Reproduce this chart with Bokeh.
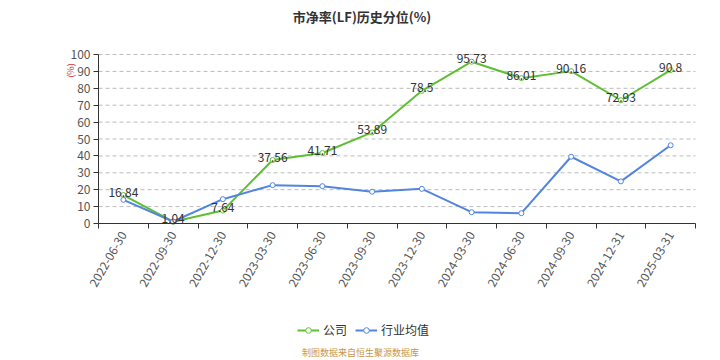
from math import pi
from bokeh.plotting import figure
from bokeh.models import (ColumnDataSource, FixedTicker, Range1d, Label, Legend, LegendItem,
                          LinearAxis, Grid)
from bokeh.embed import file_html
from bokeh.resources import INLINE

dates = ["2022-06-30", "2022-09-30", "2022-12-30", "2023-03-30", "2023-06-30", "2023-09-30",
         "2023-12-30", "2024-03-30", "2024-06-30", "2024-09-30", "2024-12-31", "2025-03-31"]
company = [16.84, 1.04, 7.64, 37.56, 41.71, 53.89, 78.5, 95.73, 86.01, 90.16, 72.93, 90.8]
industry = [14.0, 1.2, 14.4, 22.7, 22.1, 18.8, 20.5, 6.7, 6.1, 39.5, 24.9, 46.3]
y_ticks = [0, 10, 20, 30, 40, 50, 60, 70, 80, 90, 100]

title_text = "市净率(LF)历史分位(%)"
source_text = "制图数据来自恒生聚源数据库"
unit_text = "(%)"
series_names = ["公司", "行业均值"]

GREEN = "#5fbf32"
BLUE = "#5285e0"
FONT = "Noto Sans CJK SC"

n = len(dates)
xs = [i + 0.5 for i in range(n)]
src = ColumnDataSource(dict(x=xs, company=company, industry=industry,
                            clabel=[str(v) for v in company]))

# the frame covers the whole canvas; axes are drawn at fixed locations inside it
W, H = 720, 360
px_x = 49.75          # pixels per category
px_y = 1.69           # pixels per percent
left_px, zero_px = 98, 223
x_range = Range1d(-left_px / px_x, (W - left_px) / px_x)
y_range = Range1d(-(H - zero_px) / px_y, zero_px / px_y)

p = figure(width=W, height=H, output_backend="svg", toolbar_location=None,
           x_range=x_range, y_range=y_range, x_axis_location=None, y_axis_location=None,
           min_border=0)
p.title = None
p.outline_line_color = None
p.background_fill_color = "white"
p.border_fill_color = "white"
p.center = [r for r in p.center if not isinstance(r, Grid)]

# grid lines (dashed) between 10 and 100
grid_y = y_ticks[1:]
p.segment(x0=[0] * len(grid_y), x1=[n] * len(grid_y), y0=grid_y, y1=grid_y,
          line_color="#bbbbbb", line_dash="4 3", line_width=1)

# x axis
xaxis = LinearAxis(fixed_location=0, bounds=(0, n))
xaxis.ticker = FixedTicker(ticks=xs, minor_ticks=list(range(n + 1)))
xaxis.major_label_overrides = {x: d for x, d in zip(xs, dates)}
xaxis.major_label_orientation = pi / 3
xaxis.major_tick_out = 0
xaxis.major_tick_in = 0
xaxis.minor_tick_out = 5
xaxis.minor_tick_in = 0
xaxis.minor_tick_line_color = "#333333"
xaxis.axis_line_color = "#333333"
xaxis.major_label_text_font = FONT
xaxis.major_label_text_font_size = "12px"
xaxis.major_label_text_color = "#555555"
xaxis.major_label_standoff = 4
p.add_layout(xaxis, "below")

# y axis
yaxis = LinearAxis(fixed_location=0, bounds=(0, 100))
yaxis.ticker = FixedTicker(ticks=y_ticks)
yaxis.minor_tick_line_color = None
yaxis.major_tick_out = 5
yaxis.major_tick_in = 0
yaxis.axis_line_color = "#333333"
yaxis.major_tick_line_color = "#333333"
yaxis.major_label_text_font = FONT
yaxis.major_label_text_font_size = "12px"
yaxis.major_label_text_color = "#555555"
yaxis.major_label_standoff = 3
p.add_layout(yaxis, "left")

# series
cl = p.line("x", "company", source=src, line_color=GREEN, line_width=2)
cc = p.scatter("x", "company", source=src, size=5, fill_color="white", line_color=GREEN, line_width=1)
il = p.line("x", "industry", source=src, line_color=BLUE, line_width=2)
ic = p.scatter("x", "industry", source=src, size=5, fill_color="white", line_color=BLUE, line_width=1)

p.text("x", "company", text="clabel", source=src, text_align="center", text_baseline="middle",
       y_offset=-3, text_font_size="12px", text_color="#333333",
       text_font={"value": FONT})

# legend
legend = Legend(items=[LegendItem(label=series_names[0], renderers=[cl, cc]),
                       LegendItem(label=series_names[1], renderers=[il, ic])],
                orientation="horizontal", location=(297, 22),
                label_text_font=FONT, label_text_font_size="12px", label_text_color="#333333",
                glyph_width=22, glyph_height=14, spacing=8, label_standoff=4,
                background_fill_alpha=0, border_line_color=None, padding=0, margin=0)
p.add_layout(legend, "center")

# title, unit and source
p.add_layout(Label(x=(361.5 - left_px) / px_x, y=(zero_px - 16) / px_y, text=title_text,
                   text_align="center", text_baseline="middle", text_font=FONT,
                   text_font_size="13px", text_font_style="bold", text_color="#333333"))
p.add_layout(Label(x=(70 - left_px) / px_x, y=(zero_px - 70) / px_y, text=unit_text, angle=pi / 2,
                   text_align="center", text_baseline="middle", text_font=FONT,
                   text_font_size="9px", text_color="#cc3333"))
p.add_layout(Label(x=(360 - left_px) / px_x, y=(zero_px - 352) / px_y, text=source_text,
                   text_align="center", text_baseline="middle", text_font=FONT,
                   text_font_size="9px", text_color="#c8964b"))

open("out.html", "w").write(file_html(p, INLINE))
